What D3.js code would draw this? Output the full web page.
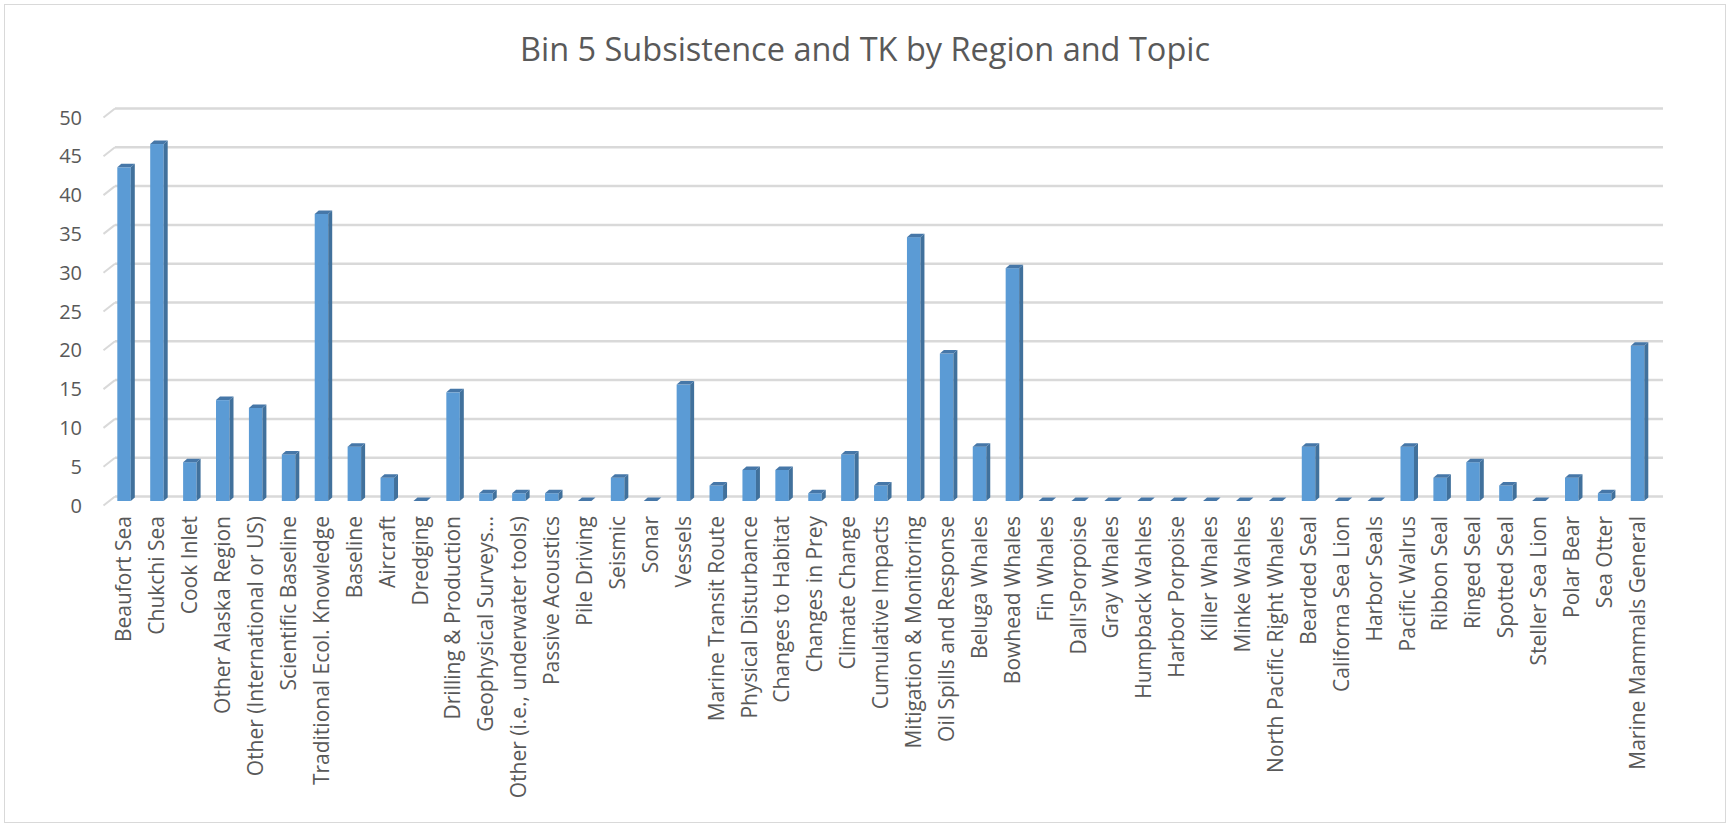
<!DOCTYPE html>
<html>
<head>
<meta charset="utf-8">
<script src="https://cdn.jsdelivr.net/npm/d3@7"></script>
<style>
  html, body { margin: 0; padding: 0; background: #fff; }
  svg { display: block; font-family: "Open Sans", "DejaVu Sans", sans-serif; }
</style>
</head>
<body>
<svg id="chart" width="1730" height="828"></svg>
<script>
// chart data
var title = "Bin 5 Subsistence and TK by Region and Topic";

var categories = [
  "Beaufort Sea", "Chukchi Sea", "Cook Inlet", "Other Alaska Region",
  "Other (International or US)", "Scientific Baseline", "Traditional Ecol. Knowledge",
  "Baseline", "Aircraft", "Dredging", "Drilling & Production", "Geophysical Surveys\u2026",
  "Other (i.e., underwater tools)", "Passive Acoustics", "Pile Driving", "Seismic",
  "Sonar", "Vessels", "Marine Transit Route", "Physical Disturbance",
  "Changes to Habitat", "Changes in Prey", "Climate Change", "Cumulative Impacts",
  "Mitigation & Monitoring", "Oil Spills and Response", "Beluga Whales", "Bowhead Whales",
  "Fin Whales", "Dall'sPorpoise", "Gray Whales", "Humpback Wahles", "Harbor Porpoise",
  "Killer Whales", "Minke Wahles", "North Pacific Right Whales", "Bearded Seal",
  "Californa Sea Lion", "Harbor Seals", "Pacific Walrus", "Ribbon Seal", "Ringed Seal",
  "Spotted Seal", "Steller Sea Lion", "Polar Bear", "Sea Otter", "Marine Mammals General"
];

var values = [
  43, 46, 5, 13,
  12, 6, 37,
  7, 3, 0, 14, 1,
  1, 1, 0, 3,
  0, 15, 2, 4,
  4, 1, 6, 2,
  34, 19, 7, 30,
  0, 0, 0, 0, 0,
  0, 0, 0, 7,
  0, 0, 7, 3, 5,
  2, 0, 3, 1, 20
];

var yTicks = [0, 5, 10, 15, 20, 25, 30, 35, 40, 45, 50];

var svg = d3.select("#chart");

// outer chart border
svg.append("rect")
  .attr("x", 4.5).attr("y", 4.5)
  .attr("width", 1721).attr("height", 818)
  .attr("fill", "#fff")
  .attr("stroke", "#d9d9d9");

svg.append("text")
  .attr("x", 865).attr("y", 61)
  .attr("text-anchor", "middle")
  .attr("fill", "#595959")
  .style("font-size", "32.5px")
  .text(title);

// back wall scale; the 3d depth shifts things down-left
var y = d3.scaleLinear().domain([0, 50]).range([496.5, 108.5]);
var wallLeft = 115, wallRight = 1663;
var depthX = 11.5, depthY = 9;

var grid = svg.append("g").attr("class", "grid");
grid.selectAll("line.back")
  .data(yTicks)
  .enter().append("line")
    .attr("class", "back")
    .attr("x1", wallLeft).attr("x2", wallRight)
    .attr("y1", function(d) { return y(d); })
    .attr("y2", function(d) { return y(d); })
    .attr("stroke", "#d9d9d9")
    .attr("stroke-width", 2.5);
grid.selectAll("line.side")
  .data(yTicks)
  .enter().append("line")
    .attr("class", "side")
    .attr("x1", wallLeft - depthX).attr("x2", wallLeft)
    .attr("y1", function(d) { return y(d) + depthY; })
    .attr("y2", function(d) { return y(d); })
    .attr("stroke", "#d9d9d9")
    .attr("stroke-width", 2);

svg.append("g").selectAll("text")
  .data(yTicks)
  .enter().append("text")
    .attr("x", 82)
    .attr("y", function(d) { return y(d) + depthY; })
    .attr("dy", "0.35em")
    .attr("text-anchor", "end")
    .attr("fill", "#595959")
    .style("font-size", "20px")
    .text(function(d) { return d; });

// bars
var x = d3.scaleBand()
  .domain(categories)
  .range([107.6, 1654])
  .paddingInner(0.59)
  .paddingOuter(0.295);

var bw = x.bandwidth();
var sideX = 4, sideY = 3.5, lift = 4.5;

var bars = svg.append("g").selectAll("g.bar")
  .data(categories.map(function(c, i) { return { name: c, value: values[i] }; }))
  .enter().append("g")
    .attr("class", "bar");

bars.filter(function(d) { return d.value > 0; })
  .append("rect")
    .attr("x", function(d) { return x(d.name); })
    .attr("y", function(d) { return y(d.value) + lift; })
    .attr("width", bw)
    .attr("height", function(d) { return y(0) - y(d.value); })
    .attr("fill", "#5b9bd5");

bars.filter(function(d) { return d.value > 0; })
  .append("path")
    .attr("fill", "#41719c")
    .attr("d", function(d) {
      var x1 = x(d.name) + bw, yt = y(d.value) + lift, yb = y(0) + lift;
      return "M" + x1 + "," + yt + "L" + (x1 + sideX) + "," + (yt - sideY)
        + "L" + (x1 + sideX) + "," + (yb - sideY) + "L" + x1 + "," + yb + "Z";
    });

bars.append("path")
  .attr("fill", "#4677a8")
  .attr("d", function(d) {
    var x0 = x(d.name), yt = y(d.value) + lift;
    return "M" + x0 + "," + yt + "L" + (x0 + bw) + "," + yt
      + "L" + (x0 + bw + sideX) + "," + (yt - sideY) + "L" + (x0 + sideX) + "," + (yt - sideY) + "Z";
  });

// category labels, turned upright
svg.append("g").selectAll("text")
  .data(categories)
  .enter().append("text")
    .attr("transform", function(d) {
      return "translate(" + (x(d) + bw / 2) + ",516) rotate(-90)";
    })
    .attr("dy", "0.35em")
    .attr("text-anchor", "end")
    .attr("fill", "#595959")
    .style("font-size", "21px")
    .text(function(d) { return d; });
</script>
</body>
</html>
